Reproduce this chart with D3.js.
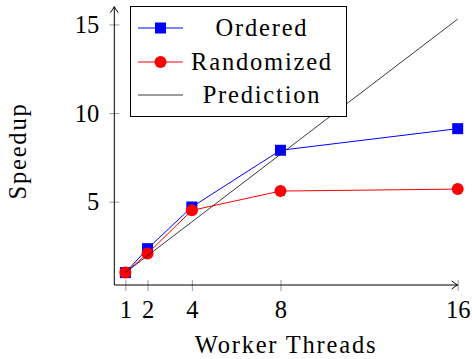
<!DOCTYPE html>
<html>
<head>
<meta charset="utf-8">
<script src="https://cdn.jsdelivr.net/npm/d3@7"></script>
<style>
  body { margin: 0; background: #fff; }
</style>
</head>
<body>
<div id="app"></div>
<script>
const threads = [1, 2, 4, 8, 16];
const ordered = [1.0, 2.35, 4.7, 7.9, 9.12];
const randomized = [1.0, 2.07, 4.51, 5.6, 5.71];
const predictionX = [1, 16];
const predictionY = [1.0, 15.3];
const xTicks = [1, 2, 4, 8, 16];
const yTicks = [5, 10, 15];
const seriesNames = ["Ordered", "Randomized", "Prediction"];

const screen = { width: 472, height: 359 };
const plot = { left: 114.3, right: 457.7, top: 6.7, bottom: 285 };
const font = '"Liberation Serif", serif';
const fontSize = 24.5;
const wordSpacing = "1.8px";

const x = d3.scaleLinear().domain([0.5, 16]).range([plot.left, plot.right]);
const y = d3.scaleLinear().domain([0.3, 16]).range([plot.bottom, plot.top]);

const svg = d3.select("#app")
  .append("svg")
  .attr("width", screen.width)
  .attr("height", screen.height);

// axes: ticks and labels from d3, lines with arrows drawn below
const xAxis = svg.append("g")
  .attr("transform", `translate(0,${plot.bottom})`)
  .call(d3.axisBottom(x).tickValues(xTicks).tickFormat(d3.format("d")).tickSize(6).tickPadding(0));
xAxis.select(".domain").remove();
xAxis.selectAll(".tick line").attr("y1", -5).attr("y2", 6).attr("stroke", "#999");
xAxis.selectAll(".tick text")
  .attr("y", 33).attr("dy", null)
  .style("font-size", fontSize + "px")
  .style("font-family", font)
  .style("fill", "#000");

const yAxis = svg.append("g")
  .attr("transform", `translate(${plot.left},0)`)
  .call(d3.axisLeft(y).tickValues(yTicks).tickFormat(d3.format("d")).tickSize(5).tickPadding(0));
yAxis.select(".domain").remove();
yAxis.selectAll(".tick line").attr("x1", -5).attr("x2", 5).attr("stroke", "#999");
yAxis.selectAll(".tick text")
  .attr("x", -15).attr("dy", "0.33em")
  .style("font-size", fontSize + "px")
  .style("font-family", font)
  .style("fill", "#000");

const axisLines = svg.append("g").attr("stroke", "#000").attr("fill", "none").attr("stroke-width", 1);
axisLines.append("line")
  .attr("x1", plot.left).attr("y1", plot.bottom)
  .attr("x2", plot.right).attr("y2", plot.bottom);
axisLines.append("line")
  .attr("x1", plot.left).attr("y1", plot.bottom)
  .attr("x2", plot.left).attr("y2", plot.top);
axisLines.append("path")
  .attr("d", `M${plot.right - 6},${plot.bottom - 4} Q${plot.right - 2},${plot.bottom - 1} ${plot.right},${plot.bottom} Q${plot.right - 2},${plot.bottom + 1} ${plot.right - 6},${plot.bottom + 4}`);
axisLines.append("path")
  .attr("d", `M${plot.left - 4},${plot.top + 6} Q${plot.left - 1},${plot.top + 2} ${plot.left},${plot.top} Q${plot.left + 1},${plot.top + 2} ${plot.left + 4},${plot.top + 6}`);

// axis titles
svg.append("text")
  .attr("x", (plot.left + plot.right) / 2)
  .attr("y", 353)
  .attr("text-anchor", "middle")
  .style("font-family", font)
  .style("font-size", fontSize + "px")
  .style("letter-spacing", wordSpacing)
  .text("Worker Threads");

svg.append("text")
  .attr("transform", "translate(26,151) rotate(-90)")
  .attr("text-anchor", "middle")
  .style("font-family", font)
  .style("font-size", fontSize + "px")
  .style("letter-spacing", wordSpacing)
  .text("Speedup");

// series
const line = d3.line().x((d) => x(d[0])).y((d) => y(d[1]));
const orderedPts = threads.map((t, i) => [t, ordered[i]]);
const randomPts = threads.map((t, i) => [t, randomized[i]]);
const predPts = predictionX.map((t, i) => [t, predictionY[i]]);

const plotArea = svg.append("g");

plotArea.append("path").datum(orderedPts)
  .attr("d", line).attr("fill", "none").attr("stroke", "#0000ff").attr("stroke-width", 1);
plotArea.selectAll(".sq").data(orderedPts).enter().append("rect")
  .attr("x", (d) => x(d[0]) - 5.5).attr("y", (d) => y(d[1]) - 5.5)
  .attr("width", 11).attr("height", 11).attr("fill", "#0000ff");

plotArea.append("path").datum(randomPts)
  .attr("d", line).attr("fill", "none").attr("stroke", "#ff0000").attr("stroke-width", 1);
plotArea.selectAll(".dot").data(randomPts).enter().append("circle")
  .attr("cx", (d) => x(d[0])).attr("cy", (d) => y(d[1]))
  .attr("r", 6).attr("fill", "#ff0000");

plotArea.append("path").datum(predPts)
  .attr("d", line).attr("fill", "none").attr("stroke", "#222").attr("stroke-width", 0.9);

// legend
const legend = svg.append("g");
legend.append("rect")
  .attr("x", 130.5).attr("y", 6.5).attr("width", 216).attr("height", 110)
  .attr("fill", "#fff").attr("stroke", "#000").attr("stroke-width", 1);

const rowY = [28, 62, 95];
const colors = ["#0000ff", "#ff0000", "#222"];
seriesNames.forEach((name, i) => {
  const row = legend.append("g").attr("transform", `translate(0,${rowY[i]})`);
  row.append("line").attr("x1", 138).attr("x2", 183).attr("y1", 0).attr("y2", 0)
    .attr("stroke", colors[i]).attr("stroke-width", i === 2 ? 0.9 : 1);
  if (i === 0) {
    row.append("rect").attr("x", 155).attr("y", -5.5).attr("width", 11).attr("height", 11).attr("fill", colors[i]);
  } else if (i === 1) {
    row.append("circle").attr("cx", 160.5).attr("cy", 0).attr("r", 6).attr("fill", colors[i]);
  }
  row.append("text")
    .attr("x", 262).attr("y", 8)
    .attr("text-anchor", "middle")
    .style("font-family", font)
    .style("font-size", fontSize + "px")
    .style("letter-spacing", wordSpacing)
    .text(name);
});
</script>
</body>
</html>
